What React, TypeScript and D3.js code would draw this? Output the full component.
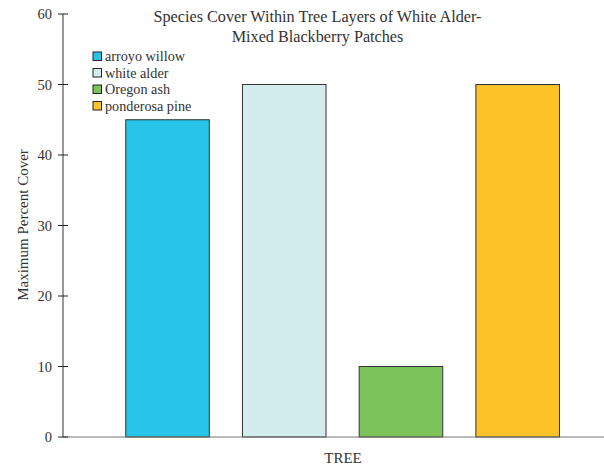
import React from "react";
import * as d3 from "d3";

const categories = ["arroyo willow", "white alder", "Oregon ash", "ponderosa pine"];
const values = [45, 50, 10, 50];
const colors = ["#29c4e9", "#d3ecee", "#7cc35a", "#fdc228"];
const yTicks = [0, 10, 20, 30, 40, 50, 60];
const titleLines = ["Species Cover Within Tree Layers of White Alder-", "Mixed Blackberry Patches"];
const xLabel = "TREE";
const yLabel = "Maximum Percent Cover";

const W = 604, H = 465;
const font = "'Liberation Serif', 'Times New Roman', serif";

export default function App() {
  const y = d3.scaleLinear().domain([0, 60]).range([437, 14]);
  const x = d3.scaleBand<string>().domain(categories).range([92.6, 592.6]).paddingInner(0.284).paddingOuter(0.284);
  const axisX = 63;
  return (
    <svg width={W} height={H} style={{ position: "absolute", left: 0, top: 0 }} fontFamily={font}>
      <rect width={W} height={H} fill="#fff" />
      {/* title */}
      {titleLines.map((t, i) => (
        <text key={t} x={317.5} y={22 + i * 19.5} textAnchor="middle" fontSize={16.2} fill="#333">{t}</text>
      ))}
      {/* bars */}
      {categories.map((c, i) => (
        <rect key={c} x={x(c)} y={y(values[i])} width={x.bandwidth()} height={y(0) - y(values[i])}
          fill={colors[i]} stroke="#333" strokeWidth={1} />
      ))}
      {/* x baseline */}
      <line x1={axisX} x2={W} y1={y(0)} y2={y(0)} stroke="#777" strokeWidth={1} />
      {/* y axis */}
      <line x1={axisX} x2={axisX} y1={y(60)} y2={y(0)} stroke="#333" strokeWidth={1} />
      {yTicks.map(t => (
        <g key={t}>
          <line x1={axisX - 5} x2={axisX + 5} y1={y(t)} y2={y(t)} stroke="#222" strokeWidth={1} />
          <text x={axisX - 11} y={y(t)} dy="0.35em" textAnchor="end" fontSize={14.5} fill="#333">{t}</text>
        </g>
      ))}
      {/* legend */}
      {categories.map((c, i) => (
        <g key={c} transform={`translate(93, ${52 + i * 16.5})`}>
          <rect x={0} y={0} width={8.5} height={8.5} fill={colors[i]} stroke="#222" strokeWidth={1} />
          <text x={12} y={4.5} dy="0.35em" fontSize={14.2} fill="#333">{c}</text>
        </g>
      ))}
      {/* axis titles */}
      <text x={343} y={463} textAnchor="middle" fontSize={15} fill="#333">{xLabel}</text>
      <text transform={`translate(28, 225) rotate(-90)`} textAnchor="middle" fontSize={15} fill="#333">{yLabel}</text>
    </svg>
  );
}
